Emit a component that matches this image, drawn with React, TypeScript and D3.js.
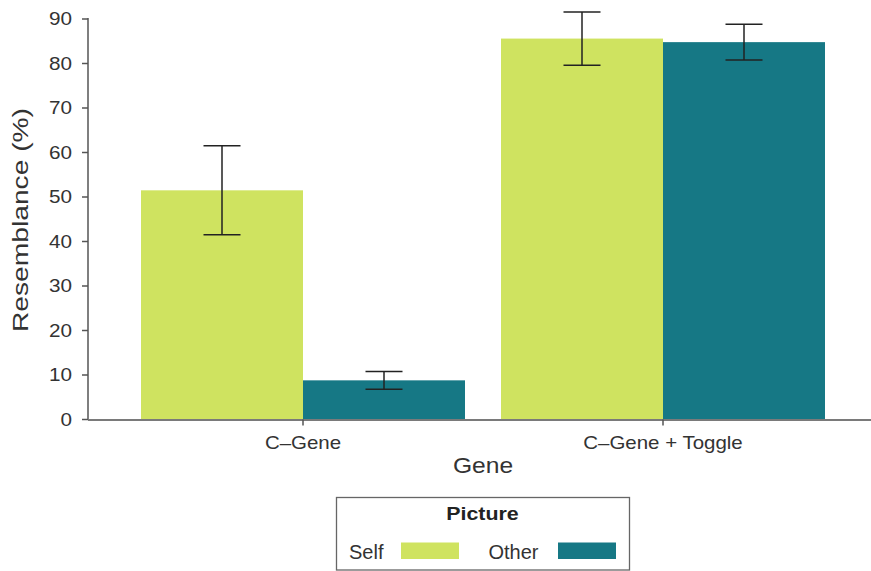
import React from "react";
import * as d3 from "d3";

const genes = ["C–Gene", "C–Gene + Toggle"];
const pictures = ["Self", "Other"];
const selfMeans = [51.5, 85.6];
const selfErrors = [10, 6];
const otherMeans = [8.8, 84.8];
const otherErrors = [2, 4];
const yTicks = [0, 10, 20, 30, 40, 50, 60, 70, 80, 90];
const colors = ["#cfe360", "#167885"];

const W = 871;
const H = 571;
const FONT = "'Liberation Sans', Arial, Helvetica, sans-serif";

export default function App() {
  const x0 = 88;
  const x = d3.scaleBand<string>().domain(genes).range([123, 843]).paddingInner(0).paddingOuter(0);
  const y = d3.scaleLinear().domain([0, 90]).range([419.5, 19]);
  const groupW = x.bandwidth() * 0.9;
  const xs = d3.scaleBand<string>().domain(pictures).range([0, groupW]);
  const series = [
    { name: "Self", means: selfMeans, errs: selfErrors },
    { name: "Other", means: otherMeans, errs: otherErrors },
  ];
  const capW = 37;
  return (
    <svg width={W} height={H} style={{ position: "absolute", left: 0, top: 0, background: "#fff" }} fontFamily={FONT}>
      {series.map((s, si) =>
        genes.map((g, gi) => {
          const bx = (x(g) as number) + (x.bandwidth() - groupW) / 2 + (xs(s.name) as number);
          const bw = xs.bandwidth();
          return (
            <rect key={`${si}-${gi}`} x={bx} y={y(s.means[gi])} width={bw} height={y(0) - y(s.means[gi])} fill={colors[si]} />
          );
        })
      )}
      {series.map((s, si) =>
        genes.map((g, gi) => {
          const cx = (x(g) as number) + (x.bandwidth() - groupW) / 2 + (xs(s.name) as number) + xs.bandwidth() / 2;
          const top = y(s.means[gi] + s.errs[gi]);
          const bot = y(s.means[gi] - s.errs[gi]);
          return (
            <g key={`e${si}-${gi}`} stroke="#222" strokeWidth={1.5}>
              <line x1={cx} x2={cx} y1={top} y2={bot} />
              <line x1={cx - capW / 2} x2={cx + capW / 2} y1={top} y2={top} />
              <line x1={cx - capW / 2} x2={cx + capW / 2} y1={bot} y2={bot} />
            </g>
          );
        })
      )}
      {/* y axis */}
      <line x1={x0} x2={x0} y1={y(90) - 1} y2={y(0)} stroke="#555" strokeWidth={1.5} />
      {yTicks.map((t) => (
        <g key={t}>
          <line x1={x0 - 6} x2={x0} y1={y(t)} y2={y(t)} stroke="#555" strokeWidth={1.5} />
          <text transform={`translate(72,${y(t)}) scale(1.15,1)`} dy="0.36em" textAnchor="end" fontSize={18} fill="#333">
            {t}
          </text>
        </g>
      ))}
      {/* x axis */}
      <line x1={x0} x2={W} y1={y(0) + 0.5} y2={y(0) + 0.5} stroke="#7a7a7a" strokeWidth={2} />
      {genes.map((g) => {
        const cx = (x(g) as number) + x.bandwidth() / 2;
        return (
          <g key={g}>
            <line x1={cx} x2={cx} y1={y(0)} y2={y(0) + 6} stroke="#555" strokeWidth={1.5} />
            <text transform={`translate(${cx},448.5) scale(1.1,1)`} textAnchor="middle" fontSize={18.6} fill="#333">
              {g}
            </text>
          </g>
        );
      })}
      <text transform="translate(483,472.5) scale(1.12,1)" textAnchor="middle" fontSize={22} fill="#333">
        Gene
      </text>
      <text
        transform={`translate(28,220) rotate(-90)`}
        textAnchor="middle"
        fontSize={22.5}
        fill="#333"
        textLength={224}
        lengthAdjust="spacingAndGlyphs"
      >
        Resemblance (%)
      </text>
      {/* legend */}
      <rect x={336.5} y={497.5} width={293} height={72.5} fill="#fff" stroke="#666" strokeWidth={1.3} />
      <text transform="translate(482.5,520) scale(1.15,1)" textAnchor="middle" fontSize={18.6} fontWeight="bold" fill="#222">
        Picture
      </text>
      {pictures.map((p, i) => {
        const lx = [349, 488.5][i];
        const sx = [401, 558][i];
        return (
          <g key={p}>
            <text x={lx} y={559} fontSize={20} fill="#333">
              {p}
            </text>
            <rect x={sx} y={542.5} width={58} height={16.5} fill={colors[i]} />
          </g>
        );
      })}
    </svg>
  );
}
